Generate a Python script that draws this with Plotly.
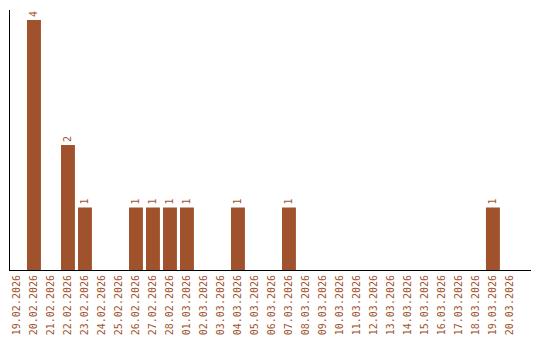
import plotly.graph_objects as go

dates = ["19.02.2026", "20.02.2026", "21.02.2026", "22.02.2026", "23.02.2026",
         "24.02.2026", "25.02.2026", "26.02.2026", "27.02.2026", "28.02.2026",
         "01.03.2026", "02.03.2026", "03.03.2026", "04.03.2026", "05.03.2026",
         "06.03.2026", "07.03.2026", "08.03.2026", "09.03.2026", "10.03.2026",
         "11.03.2026", "12.03.2026", "13.03.2026", "14.03.2026", "15.03.2026",
         "16.03.2026", "17.03.2026", "18.03.2026", "19.03.2026", "20.03.2026"]
counts = [0, 4, 0, 2, 1, 0, 0, 1, 1, 1, 1, 0, 0, 1, 0, 0, 1, 0, 0, 0,
          0, 0, 0, 0, 0, 0, 0, 0, 1, 0]

color = "#A0522D"
labels = [str(v) if v > 0 else "" for v in counts]

fig = go.Figure(go.Bar(
    x=dates, y=counts, marker_color=color, marker_line_width=0,
    text=labels, textposition="outside", textangle=-90,
    textfont=dict(family="DejaVu Sans Mono", size=10, color=color),
    cliponaxis=False,
))
fig.update_layout(
    width=540, height=340,
    margin=dict(l=10, r=9, t=10, b=70, autoexpand=False),
    plot_bgcolor="white", paper_bgcolor="white",
    bargap=0.18, showlegend=False,
    font=dict(family="DejaVu Sans Mono", size=10, color=color),
    xaxis=dict(type="category", range=[-0.41, 30.24], automargin=False,
               showline=True, linecolor="black", linewidth=1,
               showgrid=False, ticks="", tickangle=-90,
               tickfont=dict(family="DejaVu Sans Mono", size=10, color=color)),
    yaxis=dict(range=[0, 4.16], automargin=False, showline=True, linecolor="black", linewidth=1,
               showgrid=False, showticklabels=False, ticks="", zeroline=False),
)
fig.write_html("out.html")
